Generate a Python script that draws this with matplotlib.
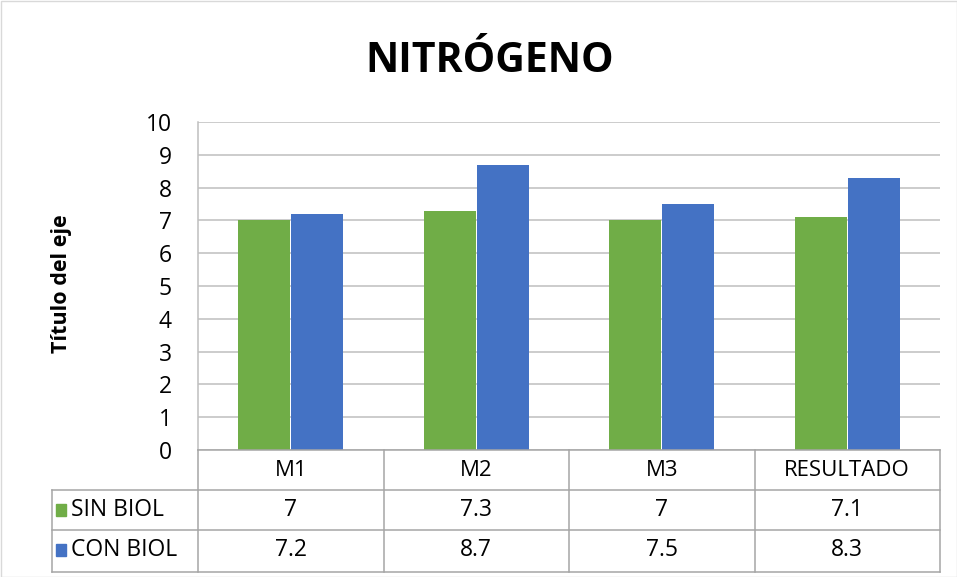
import matplotlib
matplotlib.use("Agg")
import matplotlib.pyplot as plt
from matplotlib.patches import Rectangle
import numpy as np

plt.rcParams['font.family'] = ['Open Sans', 'DejaVu Sans']

categories = ["M1", "M2", "M3", "RESULTADO"]
series_names = ["SIN BIOL", "CON BIOL"]
sin_biol = [7, 7.3, 7, 7.1]
con_biol = [7.2, 8.7, 7.5, 8.3]
value_labels = [["7", "7.3", "7", "7.1"], ["7.2", "8.7", "7.5", "8.3"]]
colors = ["#70AD47", "#4472C4"]

W, H = 957, 577
fig = plt.figure(figsize=(W / 100, H / 100), dpi=100)

# plot area in pixels
left, right, top, bottom = 198, 940, 122, 450
ax = fig.add_axes([left / W, 1 - bottom / H, (right - left) / W, (bottom - top) / H])

x = np.arange(len(categories))
bw = 0.28
ax.bar(x - bw / 2 - 0.003, sin_biol, bw, color=colors[0], zorder=3)
ax.bar(x + bw / 2 + 0.003, con_biol, bw, color=colors[1], zorder=3)

ax.set_xlim(-0.5, len(categories) - 0.5)
ax.set_ylim(0, 10)
ax.set_yticks(range(0, 11))
ax.tick_params(axis='y', length=0, labelsize=16.5, pad=19)
ax.set_xticks([])
ax.grid(axis='y', color='#bfbfbf', linewidth=1.1, zorder=0)
for s in ['top', 'right', 'bottom']:
    ax.spines[s].set_visible(False)
ax.spines['left'].set_color('#bfbfbf')
ax.spines['left'].set_linewidth(1.1)

fig.text(490 / W, 1 - 62 / H, "NITRÓGENO", fontsize=29.5, fontweight='bold',
         ha='center', va='center')
fig.text(62 / W, 1 - 284 / H, "Título del eje", rotation=90, fontsize=15.5,
         fontweight='bold', ha='center', va='center')

# data table below the axes (figure pixel coordinates)
tr = fig.transFigure
def px(xp, yp):
    return xp / W, 1 - yp / H

line_kw = dict(color='#a6a6a6', linewidth=1.1, transform=tr)
rows_y = [450, 490, 530, 572]
col_x = [left + i * (right - left) / 4 for i in range(5)]
label_left = 52

fig.add_artist(plt.Line2D(*zip(px(left, 450), px(right, 450)), **line_kw))
for yp in rows_y[1:]:
    fig.add_artist(plt.Line2D(*zip(px(label_left, yp), px(right, yp)), **line_kw))
for xp in col_x:
    fig.add_artist(plt.Line2D(*zip(px(xp, 450), px(xp, 572)), **line_kw))
fig.add_artist(plt.Line2D(*zip(px(label_left, 490), px(label_left, 572)), **line_kw))

for i, cat in enumerate(categories):
    cx = (col_x[i] + col_x[i + 1]) / 2
    fig.text(*px(cx, 470), cat, fontsize=16, ha='center', va='center')
    for r in range(2):
        fig.text(*px(cx, 510 + r * 40), value_labels[r][i], fontsize=16.5,
                 ha='center', va='center')

for r, name in enumerate(series_names):
    yc = 510 + r * 40
    x0, y0 = px(56, yc + 6)
    fig.add_artist(Rectangle((x0, y0), 10 / W, 12 / H, color=colors[r], transform=tr))
    fig.text(*px(71, yc), name, fontsize=16.5, ha='left', va='center')

# chart border
fig.add_artist(Rectangle((0.5 / W, 0.5 / H), 1 - 1 / W, 1 - 1 / H, fill=False,
                         edgecolor='#d9d9d9', linewidth=1, transform=tr))

fig.savefig("out.png", dpi=100)
